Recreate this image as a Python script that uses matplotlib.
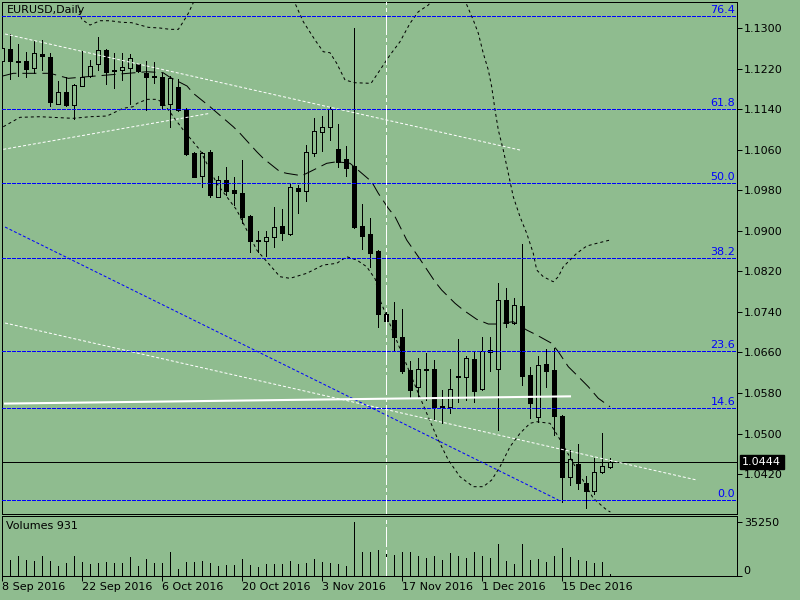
import matplotlib
matplotlib.use('Agg')
import matplotlib.pyplot as plt
import numpy as np

# EURUSD daily candles, 8 Sep 2016 .. 23 Dec 2016
opens = [1.12355, 1.12592, 1.12355, 1.12355, 1.12211, 1.12499, 1.12434, 1.11512, 1.11737, 1.11480,
         1.11867, 1.12059, 1.12289, 1.12572, 1.12177, 1.12171, 1.12211, 1.12289, 1.12124, 1.12053,
         1.12039, 1.11500, 1.11835, 1.11407, 1.10532, 1.10084, 1.10558, 1.09675, 1.10005, 1.09808,
         1.09743, 1.09294, 1.08820, 1.08807, 1.08886, 1.09097, 1.08939, 1.09841, 1.09794, 1.10544,
         1.10959, 1.11057, 1.10617, 1.10420, 1.10282, 1.09097, 1.08939, 1.08603, 1.07359, 1.07241,
         1.06899, 1.06254, 1.05924, 1.06274, 1.06274, 1.05553, 1.05517, 1.06121, 1.06110, 1.06465,
         1.05873, 1.06603, 1.06268, 1.07636, 1.07176, 1.07517, 1.06155, 1.05332, 1.06366, 1.06254,
         1.05346, 1.04135, 1.04392, 1.04017, 1.03871, 1.04246, 1.04345]
highs = [1.12769, 1.12888, 1.12690, 1.12526, 1.12755, 1.12769, 1.12519, 1.11960, 1.12045, 1.11901,
         1.12552, 1.12374, 1.12823, 1.12597, 1.12513, 1.12507, 1.12493, 1.12295, 1.12355, 1.12335,
         1.12112, 1.12059, 1.12005, 1.11421, 1.10564, 1.10564, 1.10597, 1.10084, 1.10256, 1.10058,
         1.10400, 1.09314, 1.09004, 1.09004, 1.09466, 1.09433, 1.09940, 1.09906, 1.10696, 1.11223,
         1.11269, 1.11440, 1.11111, 1.10676, 1.13000, 1.09531, 1.09249, 1.08623, 1.07452, 1.07602,
         1.07452, 1.06431, 1.06497, 1.06595, 1.06451, 1.05859, 1.06274, 1.06866, 1.06530, 1.06635,
         1.06911, 1.06899, 1.07977, 1.07867, 1.07669, 1.08742, 1.06319, 1.06530, 1.06668, 1.06694,
         1.05365, 1.04674, 1.04793, 1.04167, 1.04510, 1.05004, 1.04510]
lows = [1.12295, 1.11993, 1.12059, 1.12033, 1.12124, 1.12177, 1.11466, 1.11500, 1.11466, 1.11204,
        1.11861, 1.12045, 1.12177, 1.11906, 1.11827, 1.11974, 1.11512, 1.12137, 1.11387, 1.11914,
        1.11407, 1.11046, 1.11367, 1.10499, 1.10064, 1.09861, 1.09675, 1.09664, 1.09709, 1.09512,
        1.09150, 1.08578, 1.08578, 1.08511, 1.08688, 1.08820, 1.08919, 1.09360, 1.09596, 1.10479,
        1.10584, 1.10795, 1.10268, 1.10084, 1.09057, 1.08637, 1.08293, 1.07097, 1.07122, 1.06649,
        1.06189, 1.05695, 1.05727, 1.05661, 1.05267, 1.05201, 1.05399, 1.05628, 1.05661, 1.05628,
        1.05859, 1.06240, 1.05069, 1.07109, 1.07162, 1.05958, 1.05300, 1.05233, 1.05924, 1.04970,
        1.03653, 1.03983, 1.03898, 1.03523, 1.03806, 1.04226, 1.04313]
closes = [1.12605, 1.12355, 1.12345, 1.12197, 1.12519, 1.12447, 1.11539, 1.11737, 1.11486, 1.11875,
          1.12033, 1.12250, 1.12566, 1.12143, 1.12163, 1.12236, 1.12408, 1.12157, 1.12045, 1.12039,
          1.11492, 1.12025, 1.11387, 1.10518, 1.10070, 1.10544, 1.09709, 1.10005, 1.09794, 1.09743,
          1.09281, 1.08807, 1.08810, 1.08874, 1.09071, 1.08953, 1.09861, 1.09794, 1.10552, 1.10973,
          1.11046, 1.11407, 1.10366, 1.10248, 1.09071, 1.08899, 1.08558, 1.07359, 1.07227, 1.06899,
          1.06240, 1.05859, 1.06268, 1.06264, 1.05529, 1.05533, 1.05873, 1.06131, 1.06497, 1.05845,
          1.06629, 1.06649, 1.07636, 1.07176, 1.07537, 1.06141, 1.05596, 1.06352, 1.06240, 1.05351,
          1.04135, 1.04491, 1.04017, 1.03871, 1.04234, 1.04364, 1.04440]
volumes = [10000, 10350, 13000, 10350, 9910, 13000, 9690, 6390, 8590, 13000,
           8810, 7710, 8150, 8810, 8150, 8590, 12340, 6610, 10800, 8590,
           8150, 15420, 4190, 9250, 9250, 9470, 8370, 6610, 7270, 7050,
           10800, 7050, 5510, 7490, 7490, 7710, 9470, 7710, 8150, 10800,
           8810, 8150, 7710, 6390, 35250, 15420, 15420, 16740, 14320, 13660,
           15640, 15420, 13000, 11460, 12780, 10350, 14760, 13000, 11460, 15640,
           13000, 11460, 20930, 9690, 7710, 20930, 10350, 10800, 9030, 13000,
           18070, 12340, 10350, 9690, 8370, 9030, 931]

date_ticks = [0, 10, 20, 30, 40, 50, 60, 70]
date_labels = ['8 Sep 2016', '22 Sep 2016', '6 Oct 2016', '20 Oct 2016',
               '3 Nov 2016', '17 Nov 2016', '1 Dec 2016', '15 Dec 2016']
price_ticks = [1.1300, 1.1220, 1.1140, 1.1060, 1.0980, 1.0900,
               1.0820, 1.0740, 1.0660, 1.0580, 1.0500, 1.0420]

# Bollinger bands (bar index, price)
upper1_x = [9.2, 9.91, 10.95, 12.2, 13.45, 14.91, 16.16, 17.2, 18.24, 19.7, 20.95, 21.99, 22.61, 23.24, 23.86, 24.3]
upper1_y = [1.13598, 1.13178, 1.13065, 1.1315, 1.1315, 1.13119, 1.13111, 1.13065, 1.1302, 1.13006,
            1.1298, 1.1298, 1.13131, 1.13296, 1.13506, 1.13658]
upper2_x = [36.2, 36.58, 37.61, 39.08, 40.11, 40.95, 41.79, 42.83, 44.08, 46.08, 47.2, 48.45, 49.7,
            50.95, 51.99, 53.24, 53.95]
upper2_y = [1.13618, 1.13494, 1.13131, 1.12769, 1.12538, 1.12518, 1.12309, 1.11979, 1.11926, 1.11914,
            1.12177, 1.12473, 1.12736, 1.13099, 1.13328, 1.1346, 1.13598]
upper3_x = [57.58, 57.95, 58.86, 59.49, 60.11, 60.74, 61.16, 61.58, 61.99, 62.61, 63.24, 63.86, 64.7,
            65.54, 66.36, 66.79, 67.61, 68.86, 69.49, 70.11, 71.79, 73.04, 74.29, 75.95]
upper3_y = [1.13598, 1.135, 1.13164, 1.12902, 1.12507, 1.12177, 1.11847, 1.11387, 1.10992, 1.10597,
            1.10137, 1.09675, 1.0928, 1.08952, 1.08558, 1.08228, 1.08096, 1.07997, 1.08096, 1.08293,
            1.08558, 1.08702, 1.08755, 1.0882]
middle_x = [0.04, 1.36, 5.95, 8.24, 9.7, 18.08, 20.08, 20.95, 23.08, 23.86, 25.95, 28.86, 29.7, 31.79,
            32.61, 34.7, 35.54, 37.41, 38.45, 40.54, 41.79, 43.45, 44.7, 46.16, 46.99, 48.24, 49.08,
            50.54, 51.99, 54.08, 54.91, 56.58, 57.61, 59.29, 60.74, 61.79, 63.86, 65.54, 66.79, 68.66,
            69.49, 70.74, 71.79, 73.24, 74.49, 75.95]
middle_y = [1.12059, 1.12112, 1.12112, 1.12013, 1.12033, 1.12143, 1.12124, 1.12033, 1.11861, 1.11717,
            1.11452, 1.11057, 1.10927, 1.10564, 1.10433, 1.10169, 1.10137, 1.1009, 1.10169, 1.10335,
            1.10366, 1.10335, 1.10169, 1.09971, 1.09742, 1.09446, 1.09281, 1.0882, 1.08491, 1.07997,
            1.07833, 1.07571, 1.07438, 1.07255, 1.07162, 1.07162, 1.07208, 1.07043, 1.06945, 1.06781,
            1.06615, 1.06319, 1.06155, 1.05924, 1.05695, 1.05529]
lower_x = [0.11, 2.2, 4.7, 8.83, 10.95, 13.08, 15.08, 16.33, 16.83, 18.08, 19.33, 20.08, 22.61, 24.7,
           26.79, 29.29, 31.79, 34.7, 35.95, 38.04, 40.11, 41.79, 43.04, 44.29, 45.54, 46.6, 47.2,
           51.99, 53.04, 54.29, 55.74, 57.2, 58.86, 60.11, 61.16, 62.2, 63.45, 64.7, 65.95, 66.79,
           68.45, 69.49, 73.86, 75.54, 76.0]
lower_y = [1.11057, 1.11243, 1.11255, 1.11223, 1.11255, 1.11269, 1.11421, 1.11452, 1.11519, 1.11598,
           1.11598, 1.11531, 1.10992, 1.10597, 1.0994, 1.09413, 1.08623, 1.08096, 1.08064, 1.08163,
           1.08327, 1.0836, 1.08491, 1.08426, 1.08293, 1.0805, 1.07636, 1.05794, 1.05399, 1.04937,
           1.04477, 1.04147, 1.0395, 1.0395, 1.04082, 1.04344, 1.04739, 1.05004, 1.05201, 1.05233,
           1.05201, 1.04937, 1.0372, 1.0349, 1.0345]

# drawn objects (end points as bar index, price)
trend1_x, trend1_y = [0.33, 64.7], [1.12888, 1.10597]
trend2_x, trend2_y = [0.11, 25.95], [1.10611, 1.11322]
trend3_x, trend3_y = [0.33, 86.79], [1.07182, 1.04082]
fibline_x, fibline_y = [0.33, 69.5], [1.09077, 1.03687]
hline_x, hline_y = [0.33, 70.95], [1.05591, 1.05734]
fib_labels = ['0.0', '14.6', '23.6', '38.2', '50.0', '61.8', '76.4']
fib_prices = [1.03687, 1.05513, 1.06639, 1.08465, 1.09941, 1.11417, 1.13243]
vline_bar = 48
last_price = 1.0444

BG = '#8FBC8F'
LW = 0.72  # one pixel at 100 dpi

fig = plt.figure(figsize=(8, 6), dpi=100, facecolor=BG)
ax = fig.add_axes([2.3 / 800, 86 / 600, 735 / 800, 511.7 / 600], facecolor=BG)
axv = fig.add_axes([2.3 / 800, 24.3 / 600, 735 / 800, 59.7 / 600], facecolor=BG)

idx = np.arange(len(opens))
o = np.array(opens)
c = np.array(closes)
up = c >= o

# candles
ax.vlines(idx, lows, highs, color='black', lw=LW, zorder=3, antialiased=False)
ax.bar(idx[up], (c - o)[up], bottom=o[up], width=0.5, facecolor=BG,
       edgecolor='black', linewidth=LW, zorder=4, antialiased=False)
ax.bar(idx[~up], (c - o)[~up], bottom=o[~up], width=0.5, facecolor='black',
       edgecolor='black', linewidth=LW, zorder=4, antialiased=False)

# bands
for bx, by in [(upper1_x, upper1_y), (upper2_x, upper2_y), (upper3_x, upper3_y), (lower_x, lower_y)]:
    ax.plot(bx, by, color='black', lw=LW, ls=(0, (3, 3)), zorder=5)
ax.plot(middle_x, middle_y, color='black', lw=LW, ls=(0, (14, 6)), zorder=5)

# objects
for tx, ty in [(trend1_x, trend1_y), (trend2_x, trend2_y), (trend3_x, trend3_y)]:
    ax.plot(tx, ty, color='white', lw=LW, ls=(0, (3, 2)), zorder=5)
ax.plot(fibline_x, fibline_y, color='blue', lw=LW, ls=(0, (3, 2)), zorder=5)
for lab, pr in zip(fib_labels, fib_prices):
    ax.axhline(pr, color='blue', lw=LW, ls=(0, (3, 2)), zorder=5, antialiased=False)
    ax.annotate(lab, xy=(1, pr), xycoords=ax.get_yaxis_transform(), xytext=(-2, 3),
                textcoords='offset pixels', ha='right', va='baseline', color='blue',
                fontsize=8, zorder=6)
ax.plot(hline_x, hline_y, color='white', lw=1.5, zorder=6)
ax.axhline(last_price, color='black', lw=LW, zorder=2, antialiased=False)
ax.axvline(vline_bar, color='white', lw=LW, ls=(0, (20, 3, 3, 3)), zorder=6, antialiased=False)

ax.set_xlim(-0.0125, 91.8625)
ax.set_ylim(1.03411, 1.13514)
ax.yaxis.tick_right()
ax.set_yticks(price_ticks)
ax.set_yticklabels(['%.4f' % p for p in price_ticks])
ax.tick_params(axis='y', direction='out', length=3.6, width=LW, labelsize=8, pad=1, colors='black')
ax.set_xticks([])
for s in ax.spines.values():
    s.set_linewidth(LW)
    s.set_color('black')

ax.annotate('%.4f' % last_price, xy=(1, last_price), xycoords=ax.get_yaxis_transform(),
            xytext=(5, 0), textcoords='offset pixels', ha='left', va='center', color='white',
            fontsize=8, annotation_clip=False, zorder=10,
            bbox=dict(boxstyle='square,pad=0.2', fc='black', ec='black'))

fig.text(7 / 800, 1 - 5 / 600, 'EURUSD,Daily', fontsize=8, va='top', ha='left', color='black')

# volumes
axv.vlines(idx, 0, volumes, color='black', lw=LW, zorder=3, antialiased=False)
axv.axvline(vline_bar, color='white', lw=LW, ls=(0, (20, 3, 3, 3)), zorder=4, antialiased=False)
axv.set_xlim(-0.0125, 91.8625)
axv.set_ylim(0, 39409)
axv.yaxis.tick_right()
axv.set_yticks([0, 35250])
axv.set_yticklabels(['0', '35250'])
axv.get_yticklabels()[0].set_va('bottom')
axv.tick_params(axis='y', direction='out', length=3.6, width=LW, labelsize=8, pad=1)
axv.set_xticks(date_ticks)
axv.set_xticklabels(date_labels, ha='left')
axv.tick_params(axis='x', direction='out', length=3.6, width=LW, labelsize=8, pad=1)
for s in axv.spines.values():
    s.set_linewidth(LW)
    s.set_color('black')
fig.text(6 / 800, 1 - 521 / 600, 'Volumes 931', fontsize=8, va='top', ha='left', color='black')

fig.savefig('out.png', dpi=100, facecolor=BG)
